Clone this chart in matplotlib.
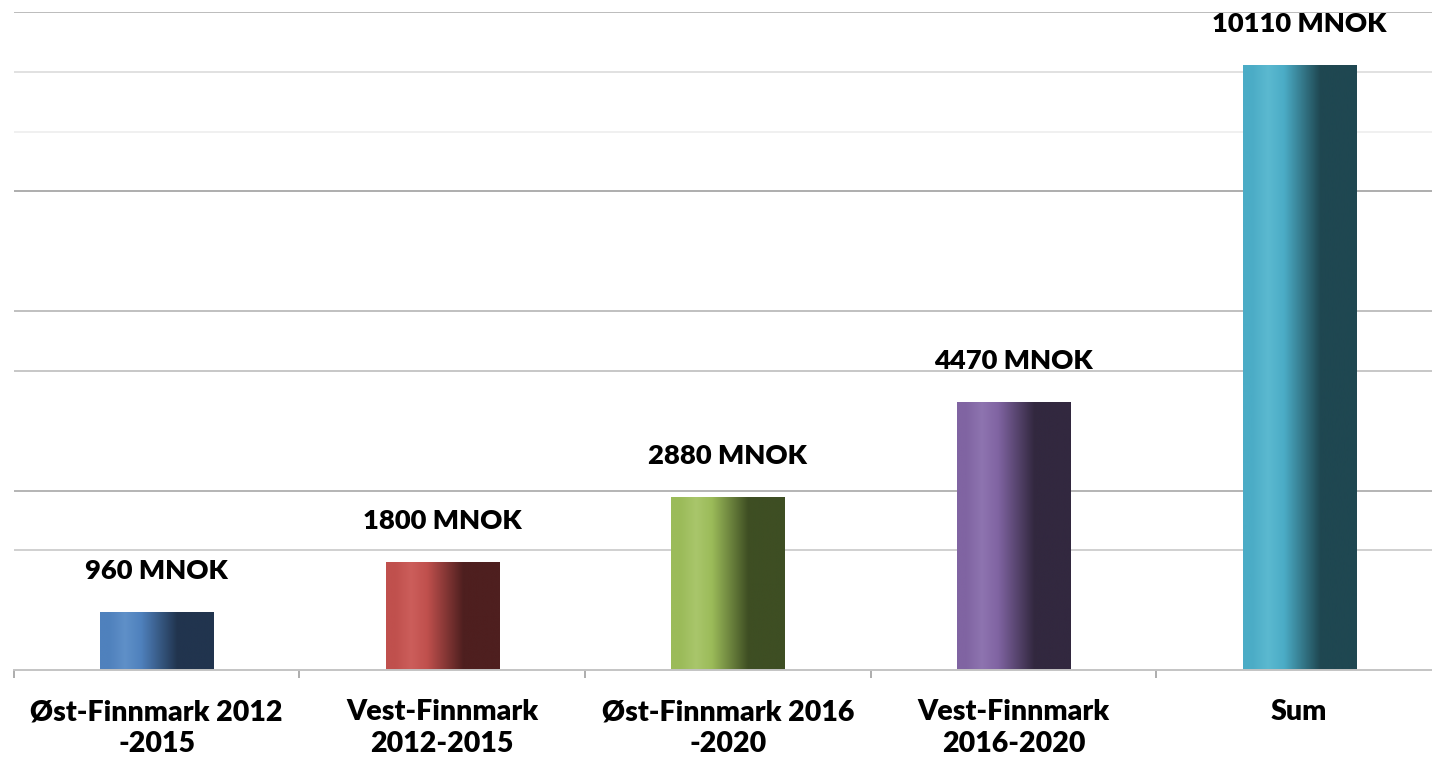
import numpy as np
import matplotlib
matplotlib.use("Agg")
import matplotlib.pyplot as plt
from matplotlib.colors import LinearSegmentedColormap

# ── data ─────────────────────────────────────────────────────────────────────
categories = ["Øst-Finnmark 2012\n-2015", "Vest-Finnmark\n2012-2015",
              "Øst-Finnmark 2016\n-2020", "Vest-Finnmark\n2016-2020", "Sum"]
values = [960, 1800, 2880, 4470, 10110]
value_labels = ["960 MNOK", "1800 MNOK", "2880 MNOK", "4470 MNOK", "10110 MNOK"]

# base / highlight / shadow per bar (Excel-style gradient)
bar_colors = [
    ("#4f81bd", "#5f90c8", "#21344e"),
    ("#c0504d", "#cc5e5b", "#4e1f1f"),
    ("#9bbb59", "#a9c66b", "#3e4e23"),
    ("#8064a2", "#8e74b0", "#32283f"),
    ("#4bacc6", "#5bb9d0", "#1f4751"),
]

# visible gridlines and their shade
grid_vals = [2000, 3000, 5000, 6000, 8000, 9000, 10000, 11000]
grid_cols = ["#c8c8c8", "#a8a8a8", "#bdbdbd", "#b5b5b5", "#a0a0a0", "#eeeeee", "#dcdcdc", "#b0b0b0"]

plt.rcParams["font.family"] = ["Lato", "DejaVu Sans"]

fig = plt.figure(figsize=(14.32, 7.62), dpi=100)
ax = fig.add_axes([13.7 / 1432, 92 / 762, 1428.3 / 1432, 658 / 762])

x = np.arange(len(categories))
bars = ax.bar(x, values, width=0.396, color="none", edgecolor="none", zorder=3)

grad = np.linspace(0, 1, 256).reshape(1, -1)
for b, (base, hi, dark) in zip(bars, bar_colors):
    cmap = LinearSegmentedColormap.from_list(
        "g", [(0, base), (0.08, base), (0.22, hi), (0.36, base), (0.68, dark), (1, dark)])
    x0, y0 = b.get_x(), b.get_y()
    ax.imshow(grad, cmap=cmap, aspect="auto", zorder=3,
              extent=(x0, x0 + b.get_width(), y0, y0 + b.get_height()))

for xi, v, lab in zip(x, values, value_labels):
    ax.annotate(lab, (xi, v), xytext=(0, 30), textcoords="offset points",
                ha="center", va="center", fontsize=19.7, fontweight="heavy", color="black")

ax.set_xlim(-0.5, len(categories) - 0.5)
ax.set_ylim(0, 11000)

ax.set_yticks(grid_vals)
ax.tick_params(axis="y", left=False, labelleft=False)
for val, col in zip(grid_vals, grid_cols):
    ax.axhline(val, color=col, linewidth=1.2, zorder=1)

ax.set_xticks(x)
ax.set_xticklabels(categories, fontsize=20.5, fontweight="heavy", linespacing=1.3, va="top")
ax.tick_params(axis="x", which="major", length=0, pad=21)
ax.set_xticks(np.arange(-0.5, len(categories)), minor=True)
ax.tick_params(axis="x", which="minor", length=6, width=1.2, color="#a0a0a0", direction="out")

for s in ["top", "right", "left"]:
    ax.spines[s].set_visible(False)
ax.spines["bottom"].set_color("#c4c4c4")
ax.spines["bottom"].set_linewidth(1.4)
ax.spines["bottom"].set_zorder(4)

fig.savefig("out.png", dpi=100)
